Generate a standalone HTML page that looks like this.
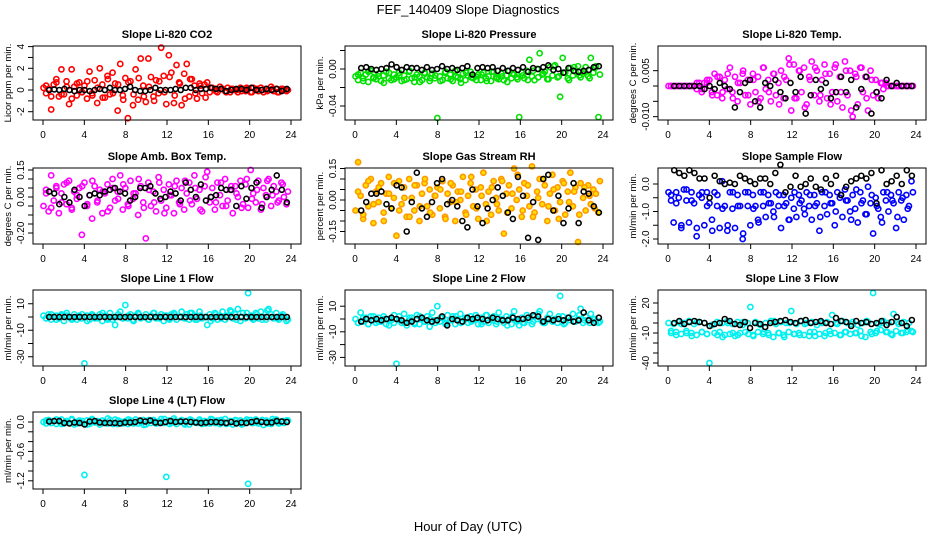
<!DOCTYPE html>
<html><head><meta charset="utf-8"><style>
html,body{margin:0;padding:0;background:#fff}
svg{display:block;font-family:"Liberation Sans",sans-serif}
</style></head><body>
<svg id="chart" width="936" height="540" xmlns="http://www.w3.org/2000/svg">
<text x="468" y="14" text-anchor="middle" font-size="13">FEF_140409  Slope Diagnostics</text>
<text x="468" y="531" text-anchor="middle" font-size="13">Hour of Day (UTC)</text>
</svg>
<script>
// ---------- data ----------
const xTicks = [0,4,8,12,16,20,24];
const titles = ["Slope Li-820 CO2","Slope Li-820 Pressure","Slope Li-820 Temp.","Slope Amb. Box Temp.","Slope Gas Stream RH","Slope Sample Flow","Slope Line 1 Flow","Slope Line 2 Flow","Slope Line 3 Flow","Slope Line 4 (LT) Flow"];
const yTitles = ["Licor ppm per min.","kPa per min.","degrees C per min.","degrees C per min.","percent per min.","ml/min per min.","ml/min per min.","ml/min per min.","ml/min per min.","ml/min per min."];
const colors = ["#ff0000","#00e000","#ff00ff","#ff00ff","#ff9900","#0000ff","#00f0f0","#00f0f0","#00f0f0","#00f0f0"];

const co2Color = [0.2,-0.3,0.1,-1.8,0.5,1.0,-0.6,1.9,-0.4,0.8,-1.3,1.9,0.3,-0.5,0.7,-0.2,
0.4,-0.8,1.7,-0.3,0.9,-1.2,2.0,0.5,-0.7,1.3,-0.4,1.6,0.6,-1.9,2.4,-0.5,
1.1,-2.6,0.8,-1.4,1.9,-0.9,2.9,0.4,-1.1,2.9,1.2,-0.6,0.9,-0.3,3.9,1.3,
-1.3,3.2,1.6,-1.2,2.3,0.7,-1.4,1.5,2.4,-0.6,1.0,0.4,-0.8,0.6,-0.3,0.5,
0.7,-0.2,0.2,0.1,-0.2,0.3,0.1,-0.1,0.2,-0.2,0.1,0.0,-0.2,0.2,0.1,-0.1,
0.1,-0.2,0.2,0.0,-0.1,0.2,-0.2,0.1,0.0,0.3,-0.1,0.1,-0.2,0.1,0.0,-0.1];
const co2Core = [0.4,-0.6,0.7,-0.4,0.3,-0.8,0.6,-0.2,0.8,-0.5,0.2,-0.7,1.0,-0.3,0.5,-0.9,0.7,-0.4,1.1,-0.6,0.3,-1.0,0.8,-0.2,1.2,-0.5,0.6,-0.8,1.0,-0.3,0.4,-0.7,0.2,-0.1,0.1,-0.2,0.1,0.0,-0.1,0.2,-0.2,0.1,0.0,-0.1,0.1,-0.2,0.1,0.0];
const co2Black = [0,0.05,0,0.1,0,-0.1,0,0,-0.1,0,0.1,0,0.2,0,0,0.1,0.3,0,-0.1,-0.1,0,0.2,0,0,0,0.1,0,0.2,0.2,0,0.1,0.1,0.2,0.1,0.1,-0.1,0,0.1,0.1,0,0.2,0,0,0.1,0,0.1,-0.1,0.1];

const presColor = [-0.008,-0.012,-0.004,-0.010,-0.006,-0.014,-0.002,-0.009,-0.011,-0.005,-0.013,-0.007,-0.003,-0.010,-0.012,-0.006,
-0.009,-0.004,-0.013,-0.007,-0.011,-0.003,-0.010,-0.014,-0.006,-0.008,-0.012,-0.004,-0.009,-0.013,-0.005,-0.010,
-0.053,-0.008,-0.012,-0.004,-0.010,-0.006,-0.013,-0.002,-0.009,-0.011,-0.005,-0.012,-0.007,-0.003,-0.010,-0.008,
-0.006,-0.012,-0.004,-0.010,-0.008,-0.013,-0.003,-0.009,-0.011,-0.005,-0.012,-0.007,-0.002,-0.010,-0.006,-0.009,
-0.052,-0.004,-0.010,-0.002,0.010,-0.008,-0.012,0.000,0.017,-0.006,-0.003,-0.011,0.002,-0.007,0.004,-0.009,
-0.030,0.012,-0.004,-0.010,0.001,-0.007,-0.003,0.003,-0.009,-0.005,0.002,-0.008,0.012,-0.004,0.003,-0.052];
const presCore = [-0.006,-0.013,-0.003,-0.010,-0.008,-0.015,-0.004,-0.011,-0.007,-0.012,-0.002,-0.009,-0.014,-0.005,-0.010,-0.007,-0.013,-0.003,-0.011,-0.008,-0.015,-0.004,-0.009,-0.012,-0.006,-0.013,-0.003,-0.010,-0.008,-0.014,-0.005,-0.011,-0.007,-0.012,-0.002,-0.009,-0.005,-0.011,0.003,-0.008,-0.004,-0.012,0.002,-0.007,-0.003,-0.010,0.001,-0.006];
const presBlack = [0.001,0.002,0.000,-0.001,0.000,0.001,0.005,0.002,-0.001,0.002,0.001,0.001,-0.001,0.002,-0.001,0.000,0.003,0.000,0.001,-0.001,0.001,0.003,-0.006,0.001,0.002,0.001,0.002,-0.002,0.001,-0.002,0.001,-0.001,0.002,-0.003,0.001,0.000,0.002,0.004,-0.001,0.000,-0.004,0.001,-0.002,-0.003,-0.002,-0.001,0.002,0.003];

const tempColor = [0,0,0,0,0,0,0,0,0,0,0,-0.001,0.001,-0.002,0.001,0.001,
0.002,-0.002,0.004,-0.003,0.003,-0.004,0.002,-0.001,0.006,-0.002,0.003,-0.005,0.001,0.004,-0.003,0.002,
-0.006,0.004,-0.002,0.003,-0.004,0.006,-0.001,0.002,-0.005,0.004,-0.003,0.001,0.005,-0.004,0.002,0.009,
-0.008,0.007,-0.004,0.005,-0.002,0.006,-0.006,0.003,0.008,-0.003,0.005,-0.005,0.002,0.007,-0.004,0.004,
-0.002,0.006,-0.005,0.003,-0.007,0.008,-0.003,0.005,-0.010,0.004,-0.006,0.006,-0.002,0.003,-0.008,0.005,
-0.003,0.002,-0.004,0.001,-0.001,0.001,0,0,0,0,0,0,0,0,0,0];
const tempCore = [0,0,0,0,0,0.001,-0.001,0.002,-0.003,0.003,-0.002,0.004,-0.004,0.001,0.005,-0.003,0.002,-0.005,0.006,-0.002,0.004,-0.006,0.003,0.007,-0.004,0.005,-0.007,0.002,0.006,-0.003,0.004,-0.006,0.007,-0.002,0.005,-0.008,0.003,0.006,-0.004,0.002,-0.002,0.001,0,0,0,0,0,0];
const tempBlack = [0,0,0,0,0,0,-0.001,0,-0.001,0.001,0,-0.001,-0.007,-0.002,0.001,0.002,-0.005,-0.007,0.001,0,0.002,-0.002,-0.004,0.001,-0.002,0.003,-0.009,-0.003,0.002,-0.001,0.001,-0.004,-0.002,0.003,-0.002,0.002,-0.007,-0.001,0.003,-0.009,-0.002,-0.004,0.002,0,0.001,0,0,0];

const ambColor = [-0.05,0.04,-0.08,0.12,-0.02,0.06,-0.09,0.02,0.07,-0.04,0.09,-0.06,0.03,-0.01,0.05,-0.21,
0.08,-0.05,0.01,-0.12,0.06,-0.03,0.04,-0.09,0.02,0.07,-0.06,0.10,-0.02,0.03,0.12,-0.07,
0.05,-0.04,0.09,-0.01,0.02,-0.10,0.06,-0.03,-0.23,0.08,-0.05,0.03,-0.08,0.11,-0.02,0.04,
-0.06,0.07,0.01,-0.09,0.09,-0.03,0.05,-0.07,0.02,0.08,-0.04,0.12,-0.01,0.04,-0.08,0.06,
0.14,-0.03,0.05,-0.07,0.08,0.01,-0.05,0.10,-0.02,0.04,-0.09,0.06,0.00,0.09,-0.04,0.07,
-0.06,0.15,0.02,-0.03,0.09,-0.07,0.05,0.01,0.10,-0.05,0.06,0.03,-0.02,0.08,0.00,-0.04];
const ambCore = [0.02,-0.06,0.05,-0.03,0.08,-0.07,0.01,0.06,-0.04,0.09,-0.02,0.03,-0.08,0.05,-0.01,0.07,-0.05,0.02,0.10,-0.06,0.04,-0.03,0.08,-0.09,0.01,0.06,-0.04,0.09,-0.02,0.05,-0.07,0.11,0.00,-0.03,0.08,-0.05,0.06,0.02,-0.06,0.10,-0.01,0.04,-0.04,0.09,0.01,-0.03,0.07,0.03];
const ambBlack = [0.03,0.02,-0.04,0.00,-0.03,0.04,0.00,-0.05,0.01,0.02,0.01,0.03,0.04,0.05,0.03,0.02,-0.02,0.00,0.05,0.05,0.06,0.02,-0.01,0.00,0.03,0.02,-0.02,0.08,0.04,0.00,0.07,-0.02,0.00,0.01,0.05,0.04,0.04,-0.05,0.06,-0.01,0.05,0.08,-0.06,0.00,0.04,0.12,0.04,-0.03];

const rhColor = [-0.05,0.18,0.02,-0.09,0.07,-0.03,0.10,-0.11,0.04,-0.01,0.08,-0.06,0.03,0.11,-0.04,0.01,
-0.17,0.09,-0.02,0.06,-0.08,0.10,0.01,-0.05,0.07,-0.10,0.03,0.08,-0.03,0.05,-0.07,0.02,
0.06,-0.04,0.09,-0.08,0.03,-0.01,0.07,-0.10,0.04,0.00,0.11,-0.06,0.02,0.08,-0.03,0.05,
-0.09,0.06,0.13,-0.02,0.04,-0.07,0.09,0.01,-0.05,0.10,-0.16,0.03,0.07,-0.04,0.15,0.00,
0.05,-0.08,0.08,0.02,-0.03,0.16,-0.06,0.04,0.10,-0.02,0.07,-0.10,0.03,0.12,-0.05,0.06,
-0.01,0.09,-0.07,0.04,0.13,-0.03,0.06,-0.20,0.08,0.01,-0.05,0.07,-0.02,0.05,0.03,-0.06];
const rhCore = [0.04,-0.07,0.09,-0.02,0.06,-0.10,0.03,0.08,-0.05,0.01,-0.08,0.07,-0.03,0.10,-0.06,0.02,0.05,-0.09,0.08,-0.01,0.04,-0.07,0.11,-0.04,0.02,-0.10,0.06,-0.02,0.09,-0.06,0.03,0.12,-0.05,0.07,-0.08,0.01,0.10,-0.03,0.05,-0.09,0.08,-0.01,0.04,-0.07,0.06,0.02,-0.04,0.09];
const rhBlack = [-0.05,-0.01,0.03,0.03,0.04,-0.02,-0.04,0.07,0.06,-0.15,-0.01,0.13,-0.04,-0.08,-0.01,0.08,0.10,-0.02,0.00,-0.03,-0.10,-0.13,0.05,-0.03,-0.11,-0.04,0.00,0.06,0.02,-0.06,-0.09,0.11,0.02,-0.18,-0.01,-0.19,0.10,0.12,-0.05,0.02,-0.11,-0.04,0.08,-0.11,0.04,0.03,-0.03,-0.06];

const flowColor = [-0.3,-0.6,-1.4,-0.3,-0.5,-1.6,-0.2,-0.6,-1.4,-0.3,-0.7,-1.9,-0.4,-0.5,-1.5,-0.3,
-0.7,-1.3,-0.3,-0.8,-1.6,0.1,-0.8,-1.7,-0.3,-0.9,-1.6,-0.4,-0.8,-2.0,-0.3,-0.8,
-1.5,-0.4,-0.8,-1.3,-0.3,-0.8,-1.2,-0.4,-0.7,-1.0,-0.3,-0.8,-1.6,-0.4,-0.7,-1.3,
-0.5,-0.9,-1.2,-0.4,-0.6,-0.9,-0.3,-0.8,-1.3,-0.4,-0.7,-1.7,-0.3,-0.8,-1.1,-0.4,
-0.7,-1.5,-0.3,-0.5,-1.2,-0.2,-0.6,-1.0,-0.4,-0.9,-1.4,-0.3,-0.6,-1.1,-0.1,-0.7,
-1.8,-0.5,-0.9,-1.2,-0.3,-0.6,-1.0,-0.4,-0.7,-1.6,-0.3,-0.6,-1.3,-0.4,-0.8,0.1];
const flowCore = [-0.4,-0.7,-1.5,-0.2,-0.6,-1.6,-0.3,-0.8,-1.7,-0.4,-0.9,-1.5,-0.3,-0.8,-1.8,-0.3,-0.9,-1.4,-0.3,-0.7,-1.2,-0.4,-0.8,-1.3,-0.3,-0.7,-1.1,-0.4,-0.8,-1.2,-0.3,-0.7,-1.0,-0.4,-0.6,-1.3,-0.2,-0.7,-1.1,-0.4,-0.8,-1.4,-0.3,-0.6,-1.2,-0.5,-0.9,-0.3];
const flowBlack = [0.5,0.4,0.3,0.5,0.4,0.2,0.2,-0.5,0.3,0.1,0.0,0.05,0.0,0.3,0.2,0.1,0.0,0.2,0.2,0.0,0.4,0.7,-0.3,-0.1,0.3,-0.1,0.0,0.2,-0.1,-0.2,0.2,0.0,0.3,-0.4,-0.1,0.1,0.2,0.3,0.2,0.4,-0.7,0.5,0.0,0.1,0.3,0.0,0.5,0.3];

const line1Color = [1,-1,2,-2,0,1,-1,2,-3,1,0,-1,2,-2,1,-1,
-35,1,-2,2,-1,0,2,-3,1,-1,3,-2,-6,0,4,-1,
9,-1,2,-2,1,3,-1,0,2,-2,1,3,-1,0,2,-3,
1,-1,2,3,-2,0,4,-1,2,-2,3,1,-2,4,-1,0,
-6,2,-1,3,-2,1,4,-2,0,5,-1,2,6,-3,3,-1,
18,1,-2,3,-1,4,0,-2,6,2,-1,3,-2,1,0,-3];
const line1Core = [-1,2,-2,1,3,-2,0,2,-3,1,-1,3,-2,0,2,-1,1,-3,2,0,-2,3,-1,1,-2,2,0,-1,3,-2,1,0,-3,2,-1,1,4,-2,0,3,-1,2,-2,5,0,-1,2,-2];
const line1Black = [0,0,0,0,0,0,0,0,0,0,0,0,0,0,0,0,0,0,0,0,0,0,0,0,0,0,0,0,0,0,0,0,0,0,0,0,0,0,0,0,0,0,0,0,0,0,0,0];

const line2Color = [0,-3,5,-2,1,-4,2,-1,-3,1,-2,2,-4,0,-1,-3,
-35,2,-3,4,-5,-1,1,-3,3,-4,0,-2,2,-6,5,-1,
10,-2,1,-3,3,-1,2,-4,0,4,-2,1,-3,2,-1,3,
-4,1,-2,3,-3,0,2,-4,5,-1,-3,2,0,-4,6,-2,
-5,1,-3,3,-1,-4,2,0,6,-2,-3,1,4,-2,0,-3,
18,2,-3,1,-1,4,-2,0,8,-3,2,-1,4,0,-2,-3];
const line2Core = [-3,1,-4,2,-2,0,-5,3,-1,-3,1,-4,2,-2,0,-3,1,-4,-1,2,-3,0,-2,1,-4,3,-1,-2,0,-5,2,-1,-3,1,-2,4,-3,0,-1,2,-4,1,-2,3,-1,-3,0,-2];
const line2Black = [-2,0,-1,0,-1,0,1,0,-1,-3,-2,0,1,-1,-2,-1,2,-5,0,-1,-2,1,0,1,0,-1,1,0,-1,-1,1,0,0,1,3,2,-2,0,-1,0,-1,1,-2,-1,5,-1,-3,1];

const line3Color = [0,-10,-1,-9,1,-11,0,-8,2,-10,-1,-12,1,-9,0,-11,
-40,-2,-10,1,-9,0,-12,2,-11,-1,-13,1,-10,-2,-9,0,
16,-12,1,-9,-2,-11,0,-10,2,-14,-1,-10,1,-12,0,-9,
12,-11,-1,-10,2,-12,0,-13,1,-9,-2,-11,0,-13,1,-8,
8,-10,-1,-12,2,-9,0,-11,1,-10,-2,-8,0,-14,1,-9,
30,-10,-1,-7,2,-9,0,-11,9,-8,-1,-10,1,-9,0,-8];
const line3Core = [-8,-12,-1,-10,-13,1,-9,-11,-2,-12,-14,0,-10,-12,1,-11,-13,-1,-9,-12,2,-10,-14,0,-11,-12,-1,-9,-13,1,-10,-11,0,-12,-9,-1,-10,-13,2,-11,-8,0,-9,-12,1,-10,-7,-9];
const line3Black = [0,2,-1,1,2,1,0,-3,-1,0,4,2,-1,-2,1,-5,0,-1,-4,0,1,2,3,1,0,2,3,0,1,2,0,-1,5,2,1,-3,2,0,1,-1,0,2,-2,1,6,0,-3,3];

const line4Color = [0,-0.03,0.04,-0.02,0.02,-0.04,0.01,0.05,-0.03,0.02,-0.01,0.04,-0.05,0.00,0.03,-0.02,
-1.08,0.03,-0.04,0.06,-0.01,0.02,-0.05,0.03,0.00,-0.03,0.04,-0.02,0.05,-0.04,0.01,-0.03,
0.02,-0.04,0.03,-0.01,0.05,-0.03,0.00,0.04,-0.05,0.02,-0.02,0.04,-0.03,0.01,0.06,-0.02,
-1.12,0.03,-0.02,0.07,-0.04,0.01,0.04,-0.03,0.02,-0.05,0.03,0.00,-0.02,0.05,-0.04,0.02,
0.00,-0.03,0.05,-0.02,0.03,-0.04,0.01,0.06,-0.03,0.02,-0.05,0.04,-0.01,0.03,-0.04,0.02,
-1.26,0.04,-0.02,0.05,-0.03,0.01,-0.06,0.03,0.00,-0.04,0.02,0.05,-0.03,0.01,-0.02,0.03];
const line4Core = [0.03,-0.02,0.05,-0.04,0.01,0.06,-0.03,0.02,-0.05,0.04,0.00,-0.02,0.07,-0.04,0.03,-0.01,0.05,-0.03,0.02,-0.06,0.04,0.01,-0.02,0.06,-0.04,0.03,0.00,-0.05,0.05,-0.01,0.02,-0.03,0.06,-0.02,0.04,-0.04,0.01,0.03,-0.05,0.05,-0.02,0.00,0.04,-0.03,0.06,-0.01,0.02,0.03];
const line4Black = [0.01,0.02,0.02,-0.02,-0.03,-0.01,-0.02,-0.05,0.01,0.02,-0.01,-0.02,-0.02,-0.02,-0.03,-0.01,-0.01,0.00,0.03,0.01,0.03,-0.01,-0.02,0.00,0.02,0.00,0.01,0.01,0.00,-0.01,-0.02,-0.01,0.00,0.00,-0.01,-0.02,0.00,-0.03,-0.01,-0.02,0.00,0.02,0.00,-0.01,-0.01,0.02,0.01,0.00];

const yTickVals = [[-2,-1,0,1,2,3,4],[0.02,0,-0.02,-0.04],[0.005,0,-0.005,-0.01],[0.15,0.1,0.05,0,-0.05,-0.1,-0.15,-0.2],[0.15,0.1,0.05,0,-0.05,-0.1,-0.15],[0,-0.5,-1,-1.5,-2],[10,0,-10,-20,-30],[10,0,-10,-20,-30],[20,10,0,-10,-20,-30,-40],[0,-0.2,-0.4,-0.6,-0.8,-1,-1.2]];
const yTickLabels = [["-2","","0","","2","","4"],["","0.00","","-0.04"],["0.005","","","-0.010"],["0.15","","","0.00","","","","-0.20"],["0.15","","","0.00","","","-0.15"],["0.0","","-1.0","","-2.0"],["10","","-10","","-30"],["10","","-10","","-30"],["20","","","-10","","","-40"],["0.0","","","-0.6","","","-1.2"]];

const colorSeries = [co2Color,presColor,tempColor,ambColor,rhColor,flowColor,line1Color,line2Color,line3Color,line4Color];
const coreSeries = [co2Core,presCore,tempCore,ambCore,rhCore,flowCore,line1Core,line2Core,line3Core,line4Core];
const blackSeries = [co2Black,presBlack,tempBlack,ambBlack,rhBlack,flowBlack,line1Black,line2Black,line3Black,line4Black];

// ---------- layout ----------
const colX0 = [43,355,668], xSpan = 248;
const rowTop = [46,168,290,412], rowBot = [120,244,366,489];
const zeroY = [90,69,86,197,200,184,317,319,323,422];
const pxPerUnit = [10.85,925,3067,180,210,27.5,1.325,1.28,1,49];

const svg = document.getElementById('chart');
const NS = 'http://www.w3.org/2000/svg';
function mk(tag, attrs){const e=document.createElementNS(NS,tag);for(const k in attrs)e.setAttribute(k,attrs[k]);return e;}

for(let p=0;p<10;p++){
  const col=p%3,row=Math.floor(p/3);
  const ox=colX0[col];
  const xs=h=>ox+h*xSpan/24;
  const ys=v=>zeroY[p]-v*pxPerUnit[p];
  const g=mk('g',{});
  
  
  svg.appendChild(g);
  const top=rowTop[row],bot=rowBot[row],left=ox-10,right=ox+xSpan+10;
  const t=mk('text',{x:(left+right)/2,y:top-8,'text-anchor':'middle','font-size':'11','font-weight':'bold'});
  t.textContent=titles[p];
  
  
  g.appendChild(t);
  const fillC=p===4?'#ffdd00':'none';
  const cs=colorSeries[p];
  cs.forEach((v,i)=>{
    const h=0.05+i*24/cs.length*0.99;
    const c=mk('circle',{cx:xs(h),cy:ys(v),r:2.6,fill:fillC,stroke:colors[p],'stroke-width':1.6});
    
    
    g.appendChild(c);
  });
  const cc=coreSeries[p];
  cc.forEach((v,i)=>{
    const h=0.3+i*23.4/(cc.length-1);
    const c=mk('circle',{cx:xs(h),cy:ys(v),r:2.6,fill:fillC,stroke:colors[p],'stroke-width':1.6});
    
    
    g.appendChild(c);
  });
  const bs=blackSeries[p];
  bs.forEach((v,i)=>{
    const h=0.6+i*23/(bs.length-1);
    const c=mk('circle',{cx:xs(h),cy:ys(v),r:2.5,fill:'none',stroke:'#000','stroke-width':1.6});
    
    
    g.appendChild(c);
  });
  const box=mk('rect',{x:left,y:top,width:right-left,height:bot-top,fill:'none',stroke:'#000','stroke-width':1});
  
  
  g.appendChild(box);
  xTicks.forEach(h=>{
    g.appendChild(mk('line',{x1:xs(h),x2:xs(h),y1:bot,y2:bot+5,stroke:'#000'}));
    const lt=mk('text',{x:xs(h),y:bot+18,'text-anchor':'middle','font-size':'10'});
    lt.textContent=h;
    
    
    g.appendChild(lt);
  });
  yTickVals[p].forEach((v,i)=>{
    const y=ys(v);
    g.appendChild(mk('line',{x1:left,x2:left-5,y1:y,y2:y,stroke:'#000'}));
    const s=yTickLabels[p][i];
    if(s){
      const lt=mk('text',{x:left-9,y:y,'text-anchor':'middle','font-size':'10',transform:'rotate(-90 '+(left-9)+' '+y+')'});
      lt.textContent=s;
      
      
      g.appendChild(lt);
    }
  });
  const cy=(top+bot)/2, ax=left-22;
  const yt=mk('text',{x:ax,y:cy,'text-anchor':'middle','font-size':'9.5',transform:'rotate(-90 '+ax+' '+cy+')'});
  yt.textContent=yTitles[p];
  
  
  g.appendChild(yt);
}
</script>
</body></html>
